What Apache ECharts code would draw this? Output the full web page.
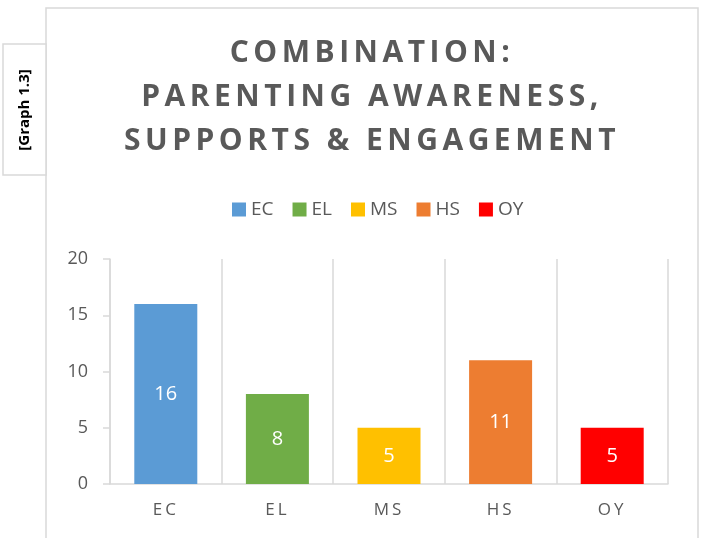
<!DOCTYPE html>
<html>
<head>
<meta charset="utf-8">
<script src="https://cdn.jsdelivr.net/npm/echarts@6/dist/echarts.min.js"></script>
<style>
html,body{margin:0;padding:0;background:#fff;}
#chart{width:705px;height:538px;}
</style>
</head>
<body>
<div id="chart"></div>
<script>
const categories = ['EC', 'EL', 'MS', 'HS', 'OY'];
const values = [16, 8, 5, 11, 5];
const colors = ['#5B9BD5', '#70AD47', '#FFC000', '#ED7D31', '#FF0000'];
const yTicks = [0, 5, 10, 15, 20];
const titleLines = ['COMBINATION:', 'PARENTING AWARENESS,', 'SUPPORTS & ENGAGEMENT'];
const sideLabel = '[Graph 1.3]';

// Character spacing (as in the original) for the title and category labels
(function () {
  const proto = CanvasRenderingContext2D.prototype;
  const orig = proto.fillText;
  proto.fillText = function (t, x, y, m) {
    const f = this.font;
    let ls = '0px';
    if (/bold 30px/.test(f)) ls = '4.5px';
    else if (/(^|\s)17px/.test(f)) ls = '3px';
    if ('letterSpacing' in this) {
      this.letterSpacing = ls;
      this.font = f;
    }
    return m === undefined ? orig.call(this, t, x, y) : orig.call(this, t, x, y, m);
  };
})();

const chart = echarts.init(document.getElementById('chart'), null, {renderer: 'canvas'});
const gray = '#595959';
const lineGray = '#d9d9d9';

const series = categories.map((c, i) => ({
  name: c,
  type: 'bar',
  stack: 'all',
  barWidth: 63,
  itemStyle: {color: colors[i]},
  label: {
    show: true, position: 'inside', color: '#fff',
    fontFamily: 'Open Sans', fontSize: 20
  },
  data: categories.map((_, j) => j === i ? values[i] : '-')
}));

chart.setOption({
  animation: false,
  backgroundColor: '#fff',
  title: {
    text: titleLines.join('\n'),
    left: 367, top: 26, textAlign: 'center',
    textStyle: {
      fontFamily: 'Open Sans', fontWeight: 'bold', fontSize: 30,
      color: gray, lineHeight: 44
    }
  },
  legend: {
    data: categories,
    top: 195, left: 227,
    itemWidth: 14, itemHeight: 14, itemGap: 19,
    icon: 'rect',
    textStyle: {fontFamily: 'Open Sans', fontSize: 19, color: gray}
  },
  grid: {left: 110, right: 37, top: 259, bottom: 54, containLabel: false},
  xAxis: {
    type: 'category',
    data: categories,
    axisLine: {show: true, lineStyle: {color: lineGray, width: 1.5}},
    axisTick: {show: false},
    splitLine: {show: true, interval: 0, lineStyle: {color: lineGray, width: 1.5}},
    axisLabel: {color: gray, fontFamily: 'Open Sans', fontSize: 17, margin: 18}
  },
  yAxis: {
    type: 'value',
    min: yTicks[0], max: yTicks[yTicks.length - 1], interval: 5,
    axisLine: {show: true, lineStyle: {color: lineGray, width: 1.5}},
    axisTick: {show: true, length: 7, lineStyle: {color: lineGray, width: 1.5}},
    splitLine: {show: false},
    axisLabel: {color: gray, fontFamily: 'Open Sans', fontSize: 18, margin: 22}
  },
  graphic: [
    {type: 'rect', shape: {x: 46, y: 8, width: 652, height: 540}, style: {fill: 'none', stroke: lineGray, lineWidth: 1.5}, z: -1},
    {type: 'rect', shape: {x: 3, y: 44, width: 43, height: 131}, style: {fill: '#fff', stroke: lineGray, lineWidth: 1.5}},
    {type: 'text', x: 25, y: 110, rotation: Math.PI / 2,
      style: {text: sideLabel, fontFamily: 'Open Sans', fontWeight: 'bold', fontSize: 15, fill: '#000', align: 'center', verticalAlign: 'middle'}}
  ],
  series: series
});
</script>
</body>
</html>
